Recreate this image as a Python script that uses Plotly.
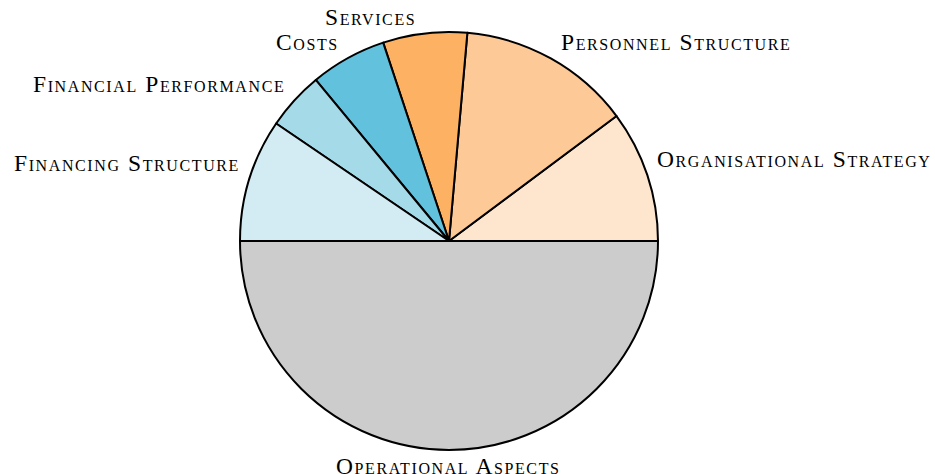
import math
import plotly.graph_objects as go

labels = ["Organisational Strategy", "Personnel Structure", "Services", "Costs",
          "Financial Performance", "Financing Structure", "Operational Aspects"]
values = [10.2, 13.4, 6.5, 5.9, 4.5, 9.5, 50.0]
colors = ["#fee6ce", "#fdc997", "#fdb163", "#62c1dd", "#a5dbe9", "#d3ecf4", "#cccccc"]

W, H = 935, 474
CX, CY, R = 449, 241, 209   # pie centre / radius in pixels
FONT = dict(family="Liberation Serif", size=23.5, color="black", variant="small-caps")

total = sum(values)
# first slice should start at 3 o'clock going counterclockwise
rot = 90 - 360 * values[0] / total

fig = go.Figure(go.Pie(
    labels=labels, values=values, sort=False, direction="counterclockwise",
    rotation=rot, marker=dict(colors=colors, line=dict(color="black", width=2)),
    textinfo="none", showlegend=False, hoverinfo="label+percent",
    domain=dict(x=[(CX - R) / W, (CX + R) / W], y=[(H - CY - R) / H, (H - CY + R) / H]),
))

cum = 0.0
for lab, v in zip(labels, values):
    mid = math.radians((cum + v / 2) / total * 360)
    cum += v
    c, s = math.cos(mid), math.sin(mid)
    if c > 0.05:
        xa, xs = "left", 9
    elif c < -0.05:
        xa, xs = "right", -8
    else:
        xa, xs = "center", 0
    if s > 0:
        ya, ys = "bottom", 2.5
    else:
        ya, ys = "top", -1.5
    fig.add_annotation(
        x=(CX + R * c) / W, y=(H - CY + R * s) / H, xref="paper", yref="paper",
        text='<span style="letter-spacing:1.6px">' + lab + "</span>",
        showarrow=False, xanchor=xa, yanchor=ya, xshift=xs, yshift=ys,
        font=FONT, borderpad=0,
    )

fig.update_layout(
    width=W, height=H,
    margin=dict(l=0, r=0, t=0, b=0),
    paper_bgcolor="white", plot_bgcolor="white",
)
fig.write_html(
    "out.html",
    config={"displayModeBar": False},
    post_script="document.body.style.margin='0';document.body.style.overflow='hidden';",
)
